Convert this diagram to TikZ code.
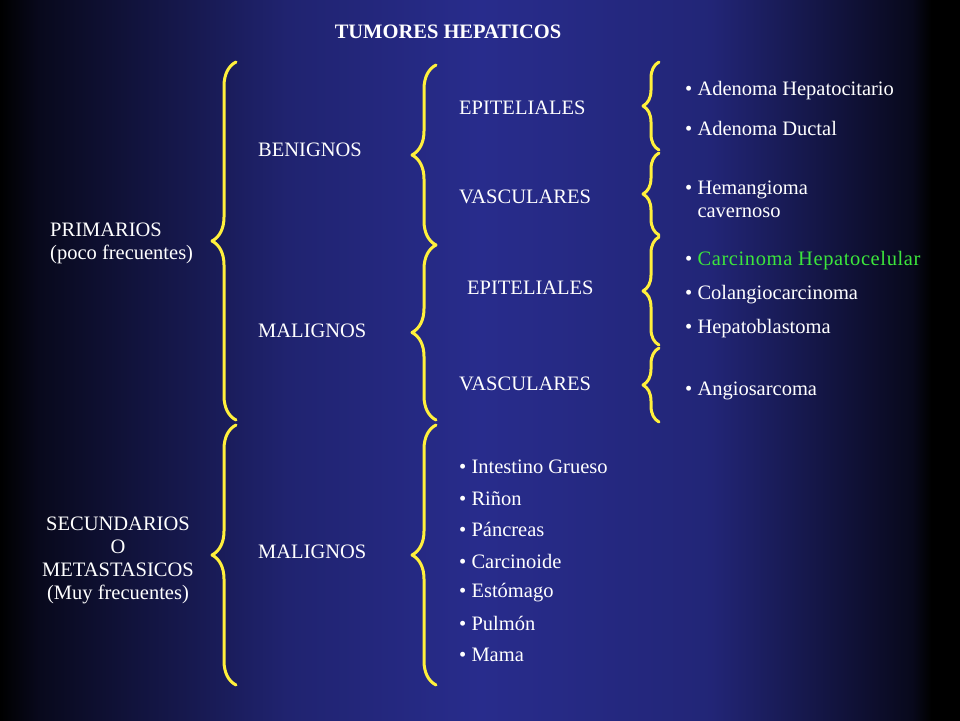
\documentclass[tikz,border=0pt]{standalone}
\usepackage{fontspec}
\setmainfont{Liberation Serif}
\usetikzlibrary{decorations.pathreplacing}
\definecolor{fondo}{RGB}{40,44,140}
\definecolor{llave}{RGB}{255,240,60}
\definecolor{verde}{RGB}{60,230,60}
\pgfdeclarehorizontalshading{fondoshade}{100bp}{color(0bp)=(black); color(25bp)=(black); color(27bp)=(black!80!fondo); color(40bp)=(fondo!80!black); color(50bp)=(fondo); color(62bp)=(fondo!85!black); color(72.5bp)=(black!80!fondo); color(73.5bp)=(black); color(100bp)=(black)}
\begin{document}
\begin{tikzpicture}[x=1pt,y=-1pt]
\tikzset{txt/.style={text=white, anchor=west, inner sep=0pt, font=\fontsize{20.5}{23}\selectfont}, % texto
  llavegr/.style={draw=llave, line width=3pt, line cap=round, line join=round, decorate, decoration={brace, amplitude=24pt}},
  llavech/.style={draw=llave, line width=3pt, line cap=round, line join=round, decorate, decoration={brace, amplitude=16pt}}}
\shade[shading=fondoshade] (0,0) rectangle (960,720);
\useasboundingbox (0,0) rectangle (960,720);
\node[txt, anchor=center, font=\fontsize{20.5}{23}\selectfont\bfseries] (titulo) at (448,32) {TUMORES HEPATICOS};
% nivel 1
\node[txt, align=left] (prim) at (50,243) {PRIMARIOS\\(poco frecuentes)};
\node[txt, anchor=center, align=center, font=\fontsize{20.5}{23}\selectfont] (sec) at (118,560) {SECUNDARIOS\\O\\METASTASICOS\\(Muy frecuentes)};
% llaves grandes
\draw[llavegr] (236,420) -- (236,62);
\draw[llavegr] (236,685) -- (236,425);
\node[txt] (ben) at (258,150) {BENIGNOS};
\node[txt] (mal) at (258,331) {MALIGNOS};
\node[txt] (mal2) at (258,552) {MALIGNOS};
\draw[llavegr] (436,245) -- (436,65);
\draw[llavegr] (436,420) -- (436,245);
\draw[llavegr] (436,685) -- (436,425);
\node[txt] (epi) at (459,108) {EPITELIALES};
\node[txt] (vas) at (459,197) {VASCULARES};
\node[txt] (epi2) at (467,288) {EPITELIALES};
\node[txt] (vas2) at (459,384) {VASCULARES};
% metastasis
\foreach \t [count=\i] in {Intestino Grueso, Riñon, Páncreas, Carcinoide, Estómago, Pulmón, Mama}
  \node[txt] (met\i) at (459,436+31.3*\i) {• \t};
% llaves chicas
\draw[llavech] (659,150) -- (659,62);
\draw[llavech] (659,235) -- (659,153);
\draw[llavech] (659,345) -- (659,237);
\draw[llavech] (659,422) -- (659,348);
\node[txt] (ade) at (685,91) {• Adenoma Hepatocitario};
\node[txt] (duc) at (685,128) {• Adenoma Ductal};
\node[txt, align=left] (hem) at (685,199) {• Hemangioma\\\phantom{• }cavernoso};
\node[txt] (chc) at (685,261) {• \textcolor{verde}{\addfontfeature{LetterSpace=3}Carcinoma Hepatocelular}};
\node[txt] (col) at (685,295) {• Colangiocarcinoma};
\node[txt] (hep) at (685,329) {• Hepatoblastoma};
\node[txt] (ang) at (685,391) {• Angiosarcoma};
\end{tikzpicture}
\end{document}
